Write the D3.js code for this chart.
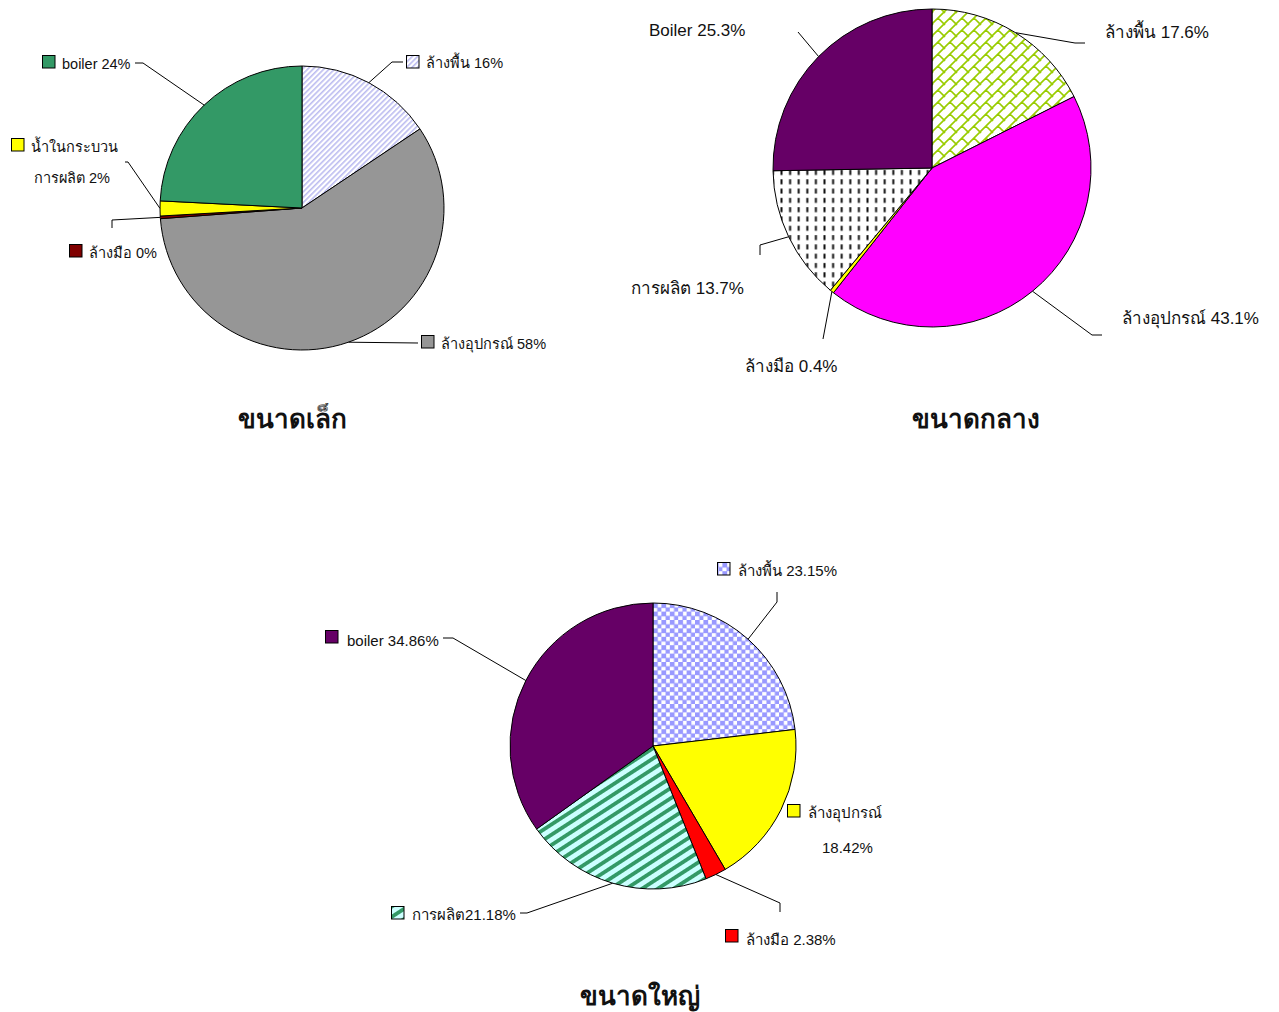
<!DOCTYPE html>
<html>
<head>
<meta charset="utf-8">
<script src="https://cdn.jsdelivr.net/npm/d3@7"></script>
<style>
  html, body { margin: 0; padding: 0; background: #fff; }
  svg { display: block; }
  text { font-family: Arial, "Liberation Sans", "Noto Sans", sans-serif; fill: #111; }
  .title { font-weight: bold; font-size: 26px; }
</style>
</head>
<body>
<svg id="chart" width="1279" height="1012"></svg>
<script>
// Water use share by process, three factory sizes (percent)
const smallCategories = ["ล้างพื้น", "ล้างอุปกรณ์", "ล้างมือ", "น้ำในกระบวนการผลิต", "boiler"];
const smallValues = [15.6, 58.2, 0.3, 1.7, 24.2];

const mediumCategories = ["ล้างพื้น", "ล้างอุปกรณ์", "ล้างมือ", "การผลิต", "Boiler"];
const mediumValues = [17.6, 43.1, 0.4, 13.7, 25.3];

const largeCategories = ["ล้างพื้น", "ล้างอุปกรณ์", "ล้างมือ", "การผลิต", "boiler"];
const largeValues = [23.15, 18.42, 2.38, 21.18, 34.86];

const chartTitles = ["ขนาดเล็ก", "ขนาดกลาง", "ขนาดใหญ่"];

const svg = d3.select("#chart");
const defs = svg.append("defs");

// ---- fill patterns ----
// stripes: a vertical band rotated into a diagonal
function stripePattern(id, period, bg, fg, width, angle) {
  const p = defs.append("pattern").attr("id", id).attr("patternUnits", "userSpaceOnUse")
    .attr("width", period).attr("height", period)
    .attr("patternTransform", `rotate(${angle})`);
  p.append("rect").attr("width", period).attr("height", period).attr("fill", bg);
  p.append("rect").attr("x", 0).attr("width", width).attr("height", period).attr("fill", fg);
}
stripePattern("pFloorSmall", 3.8, "#ffffff", "#bcbcf0", 1.6, 45);
stripePattern("pProcLarge", 8.6, "#ccffff", "#339966", 3.8, 57);

// diagonal brick (green on white)
(function () {
  const s = 12;
  const p = defs.append("pattern").attr("id", "pFloorMed").attr("patternUnits", "userSpaceOnUse")
    .attr("width", s).attr("height", s);
  p.append("rect").attr("width", s).attr("height", s).attr("fill", "#fff");
  p.append("path").attr("d", `M0,${s} L${s},0 M${s/2},${s/2} L${s},${s} M-1,1 L1,-1 M${s-1},${s+1} L${s+1},${s-1} M0,0 L1,1`)
    .attr("stroke", "#99cc00").attr("stroke-width", 1.6).attr("fill", "none");
})();

// vertical dashes (black on white)
(function () {
  const w = 8.6, h = 9.3;
  const p = defs.append("pattern").attr("id", "pProcMed").attr("patternUnits", "userSpaceOnUse")
    .attr("width", w).attr("height", h);
  p.append("rect").attr("width", w).attr("height", h).attr("fill", "#fff");
  p.append("rect").attr("x", 3.3).attr("y", 2).attr("width", 2).attr("height", 5).attr("fill", "#111");
})();

// checkerboard (lavender on white)
(function () {
  const s = 8.4, h = s / 2;
  const p = defs.append("pattern").attr("id", "pFloorLarge").attr("patternUnits", "userSpaceOnUse")
    .attr("width", s).attr("height", s);
  p.append("rect").attr("width", s).attr("height", s).attr("fill", "#fff");
  p.append("rect").attr("width", h + 0.6).attr("height", h + 0.6).attr("fill", "#9999ff");
  p.append("rect").attr("x", h).attr("y", h).attr("width", h + 0.6).attr("height", h + 0.6).attr("fill", "#9999ff");
})();

const smallFills = ["url(#pFloorSmall)", "#969696", "#800000", "#ffff00", "#339966"];
const mediumFills = ["url(#pFloorMed)", "#ff00ff", "#ffff00", "url(#pProcMed)", "#660066"];
const largeFills = ["url(#pFloorLarge)", "#ffff00", "#ff0000", "url(#pProcLarge)", "#660066"];

// ---- layout: label anchors and leader bend points per slice ----
const smallLayout = {
  cx: 302, cy: 208, r: 142, font: 14.5, title: { x: 292, y: 428 },
  labels: [
    { key: [406, 55], lines: [[426, 68]], leader: [[403, 62], [392, 62]] },
    { key: [421, 335], lines: [[441, 349]], leader: [[418, 343]] },
    { key: [69, 244], lines: [[89, 258]], leader: [[112, 228], [112, 220]] },
    { key: [11, 138], lines: [[31, 152], [34, 183]], split: 11, leader: [[125, 162], [128, 162]] },
    { key: [42, 55], lines: [[62, 69]], leader: [[135, 63], [143, 63]] }
  ]
};
const mediumLayout = {
  cx: 932, cy: 168, r: 159, font: 17, title: { x: 976, y: 428 },
  labels: [
    { lines: [[1105, 38]], leader: [[1085, 43], [1075, 43]] },
    { lines: [[1122, 324]], leader: [[1102, 335], [1092, 335]] },
    { lines: [[745, 372]], leader: [[823, 339]] },
    { lines: [[631, 294]], leader: [[760, 255], [760, 245]] },
    { lines: [[649, 36]], leader: [[798, 32]] }
  ]
};
const largeLayout = {
  cx: 653, cy: 746, r: 143, font: 15, title: { x: 640, y: 1005 },
  labels: [
    { key: [717, 562], lines: [[738, 576]], leader: [[777, 592], [777, 602]] },
    { key: [787, 804], lines: [[808, 818], [822, 853]], split: 11, leader: null },
    { key: [725, 929], lines: [[746, 945]], leader: [[780, 912], [780, 903]] },
    { key: [391, 906], lines: [[412, 920]], joined: true, leader: [[520, 913], [527, 913]] },
    { key: [325, 630], lines: [[347, 646]], leader: [[443, 638], [453, 638]] }
  ]
};

function drawPie(categories, values, fills, layout, fmt, title) {
  const g = svg.append("g");
  const pie = d3.pie().sort(null).value(d => d)(values);
  const arc = d3.arc().innerRadius(0).outerRadius(layout.r);
  const pg = g.append("g").attr("transform", `translate(${layout.cx},${layout.cy})`);

  pg.selectAll("path").data(pie).join("path")
    .attr("d", arc)
    .attr("fill", (d, i) => fills[i])
    .attr("stroke", "#000").attr("stroke-width", 1).attr("stroke-linejoin", "round");

  const line = d3.line();
  pie.forEach((d, i) => {
    const L = layout.labels[i];
    const label = categories[i] + (L.joined ? "" : " ") + fmt(values[i]);
    // leader line ends on the arc at the slice's middle angle
    if (L.leader) {
      const a = (d.startAngle + d.endAngle) / 2;
      const end = [layout.cx + layout.r * Math.sin(a), layout.cy - layout.r * Math.cos(a)];
      g.append("path").attr("d", line([...L.leader, end]))
        .attr("fill", "none").attr("stroke", "#000").attr("stroke-width", 1);
    }
    if (L.key) {
      g.append("rect").attr("x", L.key[0] + 0.5).attr("y", L.key[1] + 0.5)
        .attr("width", 12.5).attr("height", 12.5)
        .attr("fill", fills[i]).attr("stroke", "#000").attr("stroke-width", 1);
    }
    let parts;
    if (L.lines.length > 1) {
      const name = categories[i];
      const first = name.slice(0, L.split);
      const rest = name.slice(L.split);
      parts = [first, (rest ? rest + " " : "") + fmt(values[i])];
    } else {
      parts = [label];
    }
    parts.forEach((t, k) => {
      g.append("text").attr("x", L.lines[k][0]).attr("y", L.lines[k][1])
        .attr("font-size", layout.font).text(t);
    });
  });

  g.append("text").attr("class", "title")
    .attr("x", layout.title.x).attr("y", layout.title.y)
    .attr("text-anchor", "middle").text(title);
}

const fmtInt = v => d3.format(".0f")(v) + "%";
const fmt1 = v => d3.format(".1f")(v) + "%";
const fmt2 = v => d3.format(".2f")(v) + "%";

drawPie(smallCategories, smallValues, smallFills, smallLayout, fmtInt, chartTitles[0]);
drawPie(mediumCategories, mediumValues, mediumFills, mediumLayout, fmt1, chartTitles[1]);
drawPie(largeCategories, largeValues, largeFills, largeLayout, fmt2, chartTitles[2]);
</script>
</body>
</html>
